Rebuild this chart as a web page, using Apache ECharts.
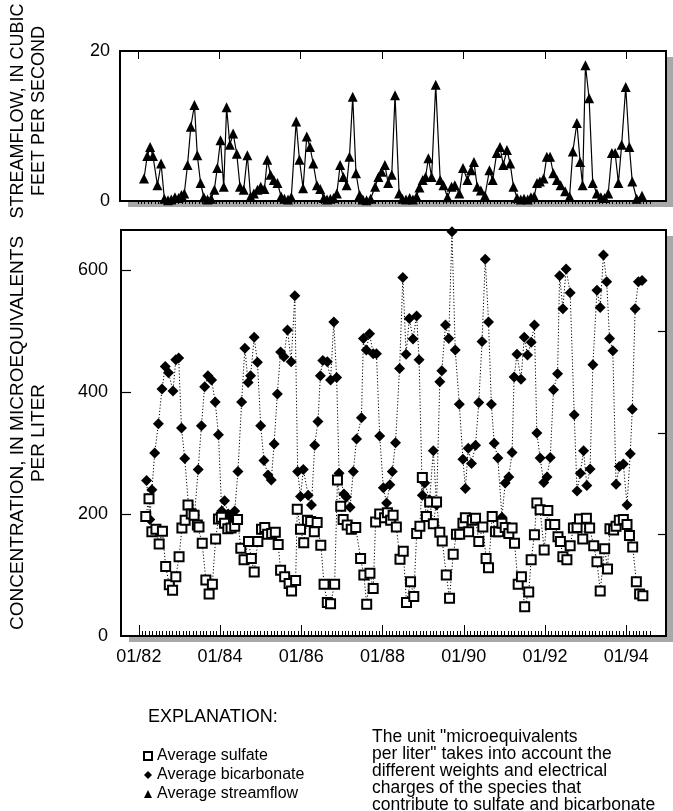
<!DOCTYPE html>
<html><head><meta charset="utf-8">
<script src="https://cdn.jsdelivr.net/npm/echarts@6/dist/echarts.min.js"></script>
<style>html,body{margin:0;padding:0;background:#fff}#c{width:673px;height:811px}</style>
</head><body><div id="c"></div>
<script>
// decimal-year positions and values
const streamYears = [1982.15,1982.23,1982.30,1982.37,1982.48,1982.57,1982.65,1982.74,1982.82,1982.91,1983.00,1983.07,1983.14,1983.22,1983.30,1983.39,1983.46,1983.54,1983.62,1983.71,1983.80,1983.88,1983.95,1984.03,1984.11,1984.18,1984.26,1984.34,1984.43,1984.51,1984.60,1984.69,1984.77,1984.85,1984.94,1985.02,1985.11,1985.18,1985.26,1985.34,1985.43,1985.52,1985.60,1985.69,1985.77,1985.89,1985.97,1986.06,1986.15,1986.23,1986.31,1986.40,1986.48,1986.57,1986.65,1986.73,1986.81,1986.89,1986.97,1987.05,1987.13,1987.20,1987.28,1987.36,1987.45,1987.53,1987.62,1987.72,1987.83,1987.91,1987.99,1988.07,1988.15,1988.24,1988.32,1988.42,1988.50,1988.59,1988.68,1988.76,1988.85,1988.92,1989.00,1989.07,1989.14,1989.22,1989.32,1989.43,1989.51,1989.61,1989.71,1989.79,1989.90,1989.99,1990.10,1990.19,1990.26,1990.34,1990.43,1990.53,1990.64,1990.72,1990.82,1990.90,1990.98,1991.07,1991.15,1991.23,1991.32,1991.41,1991.49,1991.58,1991.66,1991.74,1991.81,1991.88,1991.97,1992.05,1992.13,1992.21,1992.30,1992.39,1992.50,1992.61,1992.69,1992.79,1992.87,1992.93,1993.00,1993.09,1993.18,1993.28,1993.38,1993.47,1993.56,1993.65,1993.73,1993.81,1993.89,1993.99,1994.08,1994.15,1994.26,1994.39];
const streamflow = [3.0,6.0,7.2,6.0,2.1,5.0,0.3,0.1,0.2,0.5,0.4,0.8,1.0,4.8,9.9,12.8,6.1,2.4,0.5,0.2,0.3,1.5,4.4,8.1,1.9,12.5,7.5,9.0,6.3,1.9,1.5,6.1,0.6,1.0,1.5,1.9,1.6,5.5,3.5,2.8,2.4,0.6,0.3,0.2,0.5,10.6,5.5,1.7,8.6,7.2,5.0,2.1,1.6,0.4,0.2,0.3,0.4,1.0,4.8,3.2,2.1,5.9,13.9,3.7,0.8,0.2,0.1,0.3,1.9,3.2,3.9,4.8,2.4,3.5,14.1,1.0,0.3,0.2,0.4,0.2,0.6,1.8,2.8,3.2,5.7,3.2,15.5,2.8,2.1,0.5,1.9,2.1,1.0,4.4,2.8,4.1,5.2,1.9,1.4,0.7,4.1,2.8,6.4,7.2,4.8,6.8,5.0,1.9,0.4,0.2,0.3,0.2,0.5,0.6,2.4,2.6,3.0,5.9,5.9,3.7,2.8,2.1,1.3,0.6,6.6,10.4,5.2,2.1,18.1,13.7,2.4,1.0,0.5,0.4,1.0,6.4,6.4,2.4,7.5,15.2,7.2,2.6,0.3,0.7];

const sulfateYears = [1982.17,1982.25,1982.32,1982.42,1982.50,1982.58,1982.66,1982.75,1982.83,1982.91,1982.99,1983.06,1983.14,1983.21,1983.29,1983.36,1983.44,1983.48,1983.56,1983.65,1983.73,1983.81,1983.89,1983.96,1984.03,1984.11,1984.19,1984.27,1984.36,1984.43,1984.51,1984.59,1984.70,1984.77,1984.84,1984.93,1985.02,1985.10,1985.17,1985.27,1985.36,1985.43,1985.49,1985.59,1985.70,1985.76,1985.86,1985.90,1985.98,1986.06,1986.15,1986.23,1986.32,1986.39,1986.48,1986.56,1986.64,1986.72,1986.82,1986.89,1986.97,1987.03,1987.13,1987.23,1987.34,1987.46,1987.54,1987.61,1987.69,1987.77,1987.83,1987.93,1988.05,1988.12,1988.20,1988.26,1988.34,1988.43,1988.51,1988.59,1988.69,1988.77,1988.84,1988.92,1988.98,1989.08,1989.16,1989.25,1989.33,1989.41,1989.47,1989.57,1989.65,1989.74,1989.82,1989.90,1989.98,1990.04,1990.12,1990.21,1990.29,1990.37,1990.47,1990.55,1990.61,1990.70,1990.78,1990.86,1990.94,1991.02,1991.11,1991.19,1991.25,1991.34,1991.42,1991.50,1991.60,1991.66,1991.74,1991.80,1991.88,1991.98,1992.07,1992.13,1992.24,1992.32,1992.38,1992.44,1992.54,1992.62,1992.70,1992.79,1992.85,1992.93,1993.02,1993.10,1993.20,1993.28,1993.36,1993.47,1993.54,1993.60,1993.69,1993.75,1993.83,1993.93,1994.02,1994.08,1994.16,1994.25,1994.33,1994.41];
const sulfate = [196,225,171,175,151,172,114,84,75,97,130,177,190,215,200,198,182,179,152,92,69,85,159,192,195,185,176,177,180,191,144,125,155,127,105,155,175,178,167,168,170,150,108,97,86,74,91,208,175,153,190,188,171,186,149,85,55,53,85,256,213,191,182,175,178,127,100,52,103,78,187,200,194,202,190,198,179,126,139,55,89,65,168,180,260,196,220,184,220,170,156,100,62,134,167,167,185,194,171,190,193,155,179,127,112,196,171,171,185,178,168,177,152,85,97,48,72,125,166,218,207,141,206,183,183,163,155,130,125,148,177,178,192,159,193,177,148,122,74,143,110,176,174,180,190,191,183,165,146,89,69,66];

const bicarbYears = [1982.19,1982.27,1982.32,1982.39,1982.48,1982.57,1982.65,1982.73,1982.84,1982.91,1982.98,1983.05,1983.13,1983.22,1983.29,1983.37,1983.46,1983.54,1983.62,1983.70,1983.79,1983.88,1983.96,1984.04,1984.11,1984.20,1984.29,1984.36,1984.44,1984.53,1984.61,1984.69,1984.75,1984.84,1984.92,1985.00,1985.08,1985.18,1985.26,1985.33,1985.41,1985.49,1985.57,1985.66,1985.75,1985.84,1985.91,1985.98,1986.05,1986.17,1986.25,1986.33,1986.41,1986.47,1986.53,1986.64,1986.72,1986.80,1986.87,1986.93,1987.05,1987.11,1987.20,1987.28,1987.36,1987.48,1987.53,1987.60,1987.68,1987.77,1987.85,1987.93,1988.02,1988.10,1988.18,1988.24,1988.32,1988.42,1988.50,1988.58,1988.66,1988.75,1988.84,1988.90,1988.98,1989.04,1989.16,1989.25,1989.33,1989.41,1989.46,1989.55,1989.63,1989.71,1989.79,1989.89,1989.98,1990.04,1990.11,1990.19,1990.29,1990.37,1990.45,1990.53,1990.61,1990.68,1990.75,1990.84,1990.94,1991.02,1991.11,1991.19,1991.24,1991.31,1991.41,1991.49,1991.57,1991.66,1991.74,1991.80,1991.88,1991.97,1992.05,1992.13,1992.21,1992.31,1992.36,1992.44,1992.52,1992.62,1992.72,1992.79,1992.87,1992.95,1993.03,1993.11,1993.18,1993.28,1993.36,1993.44,1993.52,1993.59,1993.67,1993.75,1993.83,1993.93,1994.02,1994.10,1994.15,1994.22,1994.30,1994.39];
const bicarbonate = [255,191,240,300,348,405,442,432,402,453,456,341,291,215,205,198,273,345,409,427,420,384,330,205,222,200,195,205,270,384,472,416,427,490,449,345,288,264,256,315,397,466,458,502,450,558,270,229,273,231,215,313,352,427,452,450,420,515,424,267,233,228,211,270,323,358,488,469,496,463,463,328,243,218,248,270,317,439,588,462,521,487,525,453,231,251,223,304,215,417,435,510,488,663,469,380,290,242,308,283,313,383,483,618,515,380,316,292,195,251,261,301,425,462,421,490,461,482,510,333,292,252,261,293,404,430,591,537,602,563,363,238,267,304,247,274,445,567,539,625,581,488,468,249,278,282,215,299,372,537,581,583];

const majorYears = [1982,1984,1986,1988,1990,1992,1994];
const concLabels = [0,200,400,600];
const flowLabels = [0,20];
const noteLines = ['The unit "microequivalents','per liter" takes into account the','different weights and electrical','charges of the species that','contribute to sulfate and bicarbonate'];

const pairs = (xs, ys) => xs.map((x, i) => [x, ys[i]]);
const monthTicks = [];
for (let k = 0; k <= 151; k++) monthTicks.push(1982 + k / 12);

const FONT = '"Liberation Sans", Arial, Helvetica, sans-serif';
const XMIN = 1981.56, XMAX = 1994.98;
const G1 = {left: 120, top: 51, width: 546, height: 150};
const G2 = {left: 121, top: 230, width: 545, height: 406};

const chart = echarts.init(document.getElementById('c'), null, {renderer: 'canvas'});
const gridCommon = {show: true, backgroundColor: 'transparent', borderColor: '#000', borderWidth: 2};

function xa(grid, pos, ticks, len, labels) {
  return {type: 'value', gridIndex: grid, min: XMIN, max: XMAX, position: pos,
    axisLine: {show: false}, splitLine: {show: false},
    axisTick: {show: true, inside: true, length: len, customValues: ticks, lineStyle: {color: '#000', width: 1}},
    axisLabel: labels ? {show: true, customValues: majorYears, margin: 12, color: '#000', fontSize: 18, fontFamily: FONT,
      formatter: v => '01/' + String(Math.round(v)).slice(2)} : {show: false}};
}
function shadowRect(g) {
  return {type: 'rect', z: -10, silent: true,
    shape: {x: g.left + 8, y: g.top + 6, width: g.width, height: g.height},
    style: {fill: '#a8a8a8'}};
}
function whiteRect(g) {
  return {type: 'rect', z: -9, silent: true,
    shape: {x: g.left, y: g.top, width: g.width, height: g.height},
    style: {fill: '#fff'}};
}
function txt(x, y, t, size, rot, align) {
  return {type: 'text', x: x, y: y, rotation: rot || 0,
    style: {text: t, fill: '#000', fontSize: size, fontFamily: FONT, align: align || 'center', verticalAlign: 'middle'}};
}

chart.setOption({
  animation: false,
  grid: [Object.assign({}, G1, gridCommon), Object.assign({}, G2, gridCommon)],
  xAxis: [
    xa(0, 'top', monthTicks, 3, false),
    xa(0, 'top', majorYears, 8, false),
    xa(1, 'bottom', monthTicks, 5, false),
    xa(1, 'bottom', majorYears, 11, true)
  ],
  yAxis: [
    {type: 'value', gridIndex: 0, min: 0, max: 20, position: 'left', axisLine: {show: false}, splitLine: {show: false},
      axisTick: {show: false},
      axisLabel: {customValues: flowLabels, margin: 10, color: '#000', fontSize: 18, fontFamily: FONT}},
    {type: 'value', gridIndex: 1, min: 0, max: 666, position: 'left', axisLine: {show: false}, splitLine: {show: false},
      axisTick: {show: true, inside: true, length: 10, customValues: [200, 400, 600], lineStyle: {color: '#000', width: 1.2}},
      axisLabel: {customValues: concLabels, margin: 13, color: '#000', fontSize: 18, fontFamily: FONT}},
    {type: 'value', gridIndex: 1, min: 0, max: 666, position: 'right', axisLine: {show: false}, splitLine: {show: false},
      axisTick: {show: true, inside: true, length: 8, customValues: [166.7, 333.3, 500], lineStyle: {color: '#000', width: 1.2}},
      axisLabel: {show: false}}
  ],
  legend: {
    orient: 'vertical', left: 138, top: 743, itemWidth: 8, itemHeight: 8, itemGap: 3,
    textStyle: {color: '#000', fontSize: 16, fontFamily: FONT},
    data: [
      {name: 'Average sulfate', icon: 'emptyRect'},
      {name: 'Average bicarbonate', icon: 'diamond'},
      {name: 'Average streamflow', icon: 'triangle'}
    ]
  },
  series: [
    {name: 'Average streamflow', type: 'line', xAxisIndex: 0, yAxisIndex: 0, data: pairs(streamYears, streamflow),
      symbol: 'triangle', symbolSize: 10, itemStyle: {color: '#000'}, lineStyle: {color: '#000', width: 1.2}, clip: false},
    {name: 'Average bicarbonate', type: 'line', xAxisIndex: 3, yAxisIndex: 1, data: pairs(bicarbYears, bicarbonate),
      symbol: 'diamond', symbolSize: 11, itemStyle: {color: '#000'}, lineStyle: {color: '#000', width: 1, type: [1.2, 2]}},
    {name: 'Average sulfate', type: 'line', xAxisIndex: 3, yAxisIndex: 1, data: pairs(sulfateYears, sulfate),
      symbol: 'emptyRect', symbolSize: 9, itemStyle: {color: '#000', borderWidth: 1.3}, lineStyle: {color: '#000', width: 1, type: [1.2, 2]}}
  ],
  graphic: [
    shadowRect(G1), whiteRect(G1), shadowRect(G2), whiteRect(G2),
    txt(18, 111, 'STREAMFLOW, IN CUBIC', 18, Math.PI / 2),
    txt(39, 111, 'FEET PER SECOND', 18, Math.PI / 2),
    txt(18, 433, 'CONCENTRATION, IN MICROEQUIVALENTS', 19, Math.PI / 2),
    txt(39, 433, 'PER LITER', 19, Math.PI / 2),
    txt(148, 717, 'EXPLANATION:', 18, 0, 'left')
  ].concat(noteLines.map((t, i) => txt(372, 737 + i * 17, t, 17.5, 0, 'left')))
});
</script></body></html>
